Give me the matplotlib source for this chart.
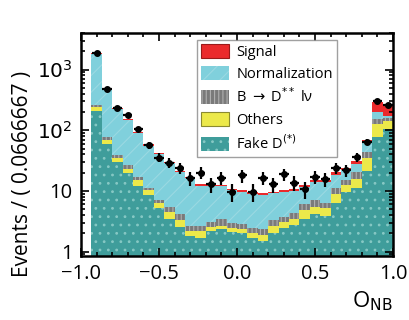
import numpy as np
import matplotlib
matplotlib.use("Agg")
import matplotlib.pyplot as plt
from matplotlib.patches import Patch

plt.rcParams['font.family'] = ['Open Sans', 'DejaVu Sans']
plt.rcParams['hatch.linewidth'] = 0.8

# 29 filled bins from -0.9333 to 1.0 (first bin of 30 is empty)
edges = np.linspace(-1, 1, 31)[1:]
centers = 0.5 * (edges[1:] + edges[:-1])

# cumulative stack tops
fake = [210, 60, 30, 20, 12.1, 8.5, 5.2, 3.5, 2.6, 1.8, 1.7, 2.18, 2.33, 2.1, 2.0,
        1.69, 1.49, 2.04, 2.47, 2.8, 3.4, 4.2, 3.9, 6.4, 9.5, 11, 21, 76, 105]
cum_others = [245, 69, 35, 23.4, 15.2, 10.3, 6.3, 4.5, 3.3, 2.2, 2.2, 2.57, 2.7, 2.47, 2.38,
              2.0, 1.92, 2.64, 3.07, 3.5, 4.8, 5.5, 5.2, 9.0, 12.5, 15.8, 34.7, 126, 144]
cum_dstst = [265, 78, 39, 26.6, 17.2, 11.2, 7.1, 5.5, 4.1, 2.7, 2.64, 3.07, 3.48, 2.99, 2.81,
             2.47, 2.33, 3.3, 3.76, 4.4, 6.2, 7.0, 6.4, 11.0, 15, 20.5, 44, 153, 158]
cum_norm = [1830, 465, 225, 148, 89, 56, 41, 29, 20.5, 16.2, 12.3, 11.9, 11.9, 10.2, 9.8,
            9.0, 8.6, 9.2, 9.8, 10.1, 11.6, 14.2, 14.2, 18.5, 21.8, 28, 62, 197, 174]
total = [1860, 472, 229, 153, 92, 59, 43, 30.5, 21.4, 17, 12.9, 12.6, 12.6, 10.8, 10.4,
         9.6, 9.2, 9.8, 10.4, 10.8, 12.4, 15.2, 15.3, 20.2, 24, 31, 70, 290, 265]
data = [1900, 470, 230, 180, 105, 57, 35.5, 29, 24.3, 16.2, 20, 12.9, 16.5, 9.8, 18,
        9.7, 16.5, 12.8, 18.9, 13.7, 10.8, 17.3, 15.6, 24.2, 22, 36.5, 65, 300, 264]

c_sig, c_norm, c_dss, c_oth, c_fake = '#ea2a2c', '#80d0dc', '#7a7a7a', '#ece94a', '#3f9d9b'

fig = plt.figure(figsize=(4.09, 3.20), dpi=100)
ax = fig.add_axes([0.198, 0.2, 0.763, 0.697])
ax.set_yscale('log')

ax.stairs(fake, edges, baseline=0.1, fill=True, facecolor=c_fake,
          edgecolor='#86c8c4', hatch='..', linewidth=0)
ax.stairs(cum_others, edges, baseline=fake, fill=True, facecolor=c_oth, linewidth=0)
ax.stairs(cum_dstst, edges, baseline=cum_others, fill=True, facecolor=c_dss,
          edgecolor='#b0b0b0', hatch='||||', linewidth=0)
ax.stairs(cum_norm, edges, baseline=cum_dstst, fill=True, facecolor=c_norm,
          edgecolor='#9ad9e2', hatch='//', linewidth=0)
ax.stairs(total, edges, baseline=cum_norm, fill=True, facecolor=c_sig, linewidth=0)

data = np.array(data)
ax.errorbar(centers, data, yerr=np.sqrt(data), xerr=(edges[1] - edges[0]) / 2 * 0.9,
            fmt='o', ms=4, color='black', elinewidth=1.6, capsize=0)

ax.set_xlim(-1, 1)
ax.set_ylim(0.85, 4000)
ax.set_xticks([-1.0, -0.5, 0.0, 0.5, 1.0])
ax.set_xticklabels(['\u22121.0', '\u22120.5', '0.0', '0.5', '1.0'])
ax.set_xticks(np.arange(-1, 1.01, 0.1), minor=True)
ax.set_yticks([1, 10, 100, 1000])
ax.set_yticklabels(['1', '10', '$10^2$', '$10^3$'])
ax.tick_params(which='both', direction='in', top=True, right=True, labelsize=14.5, width=1.2)
ax.tick_params(which='major', length=6, pad=6)
ax.tick_params(which='minor', length=3)
for s in ax.spines.values():
    s.set_linewidth(1.8)

ax.set_ylabel('Events / ( 0.0666667 )', fontsize=15)
ax.yaxis.set_label_coords(-0.155, 0.37)
ax.set_xlabel('O$_{\\rm NB}$', fontsize=16, loc='right', labelpad=4)

handles = [
    Patch(facecolor=c_sig, edgecolor='#9a1a1a', linewidth=0.8),
    Patch(facecolor=c_norm, edgecolor='#9ad9e2', hatch='//', linewidth=0),
    Patch(facecolor=c_dss, edgecolor='#b0b0b0', hatch='||||', linewidth=0),
    Patch(facecolor=c_oth, edgecolor='#8a8a30', linewidth=0.8),
    Patch(facecolor=c_fake, edgecolor='#86c8c4', hatch='..', linewidth=0),
]
labels = ['Signal', 'Normalization', 'B $\\rightarrow$ D$^{**}$ l\u03bd', 'Others', 'Fake D$^{(*)}$']
leg = ax.legend(handles, labels, loc='upper left', bbox_to_anchor=(0.372, 0.97),
                borderaxespad=0, fontsize=10.5, frameon=True, fancybox=False,
                handlelength=1.9, handleheight=1.1, labelspacing=0.4, borderpad=0.3,
                handletextpad=0.5)
leg.get_frame().set_edgecolor('#888888')
leg.get_frame().set_linewidth(1.0)

fig.savefig('out.png', dpi=100)
